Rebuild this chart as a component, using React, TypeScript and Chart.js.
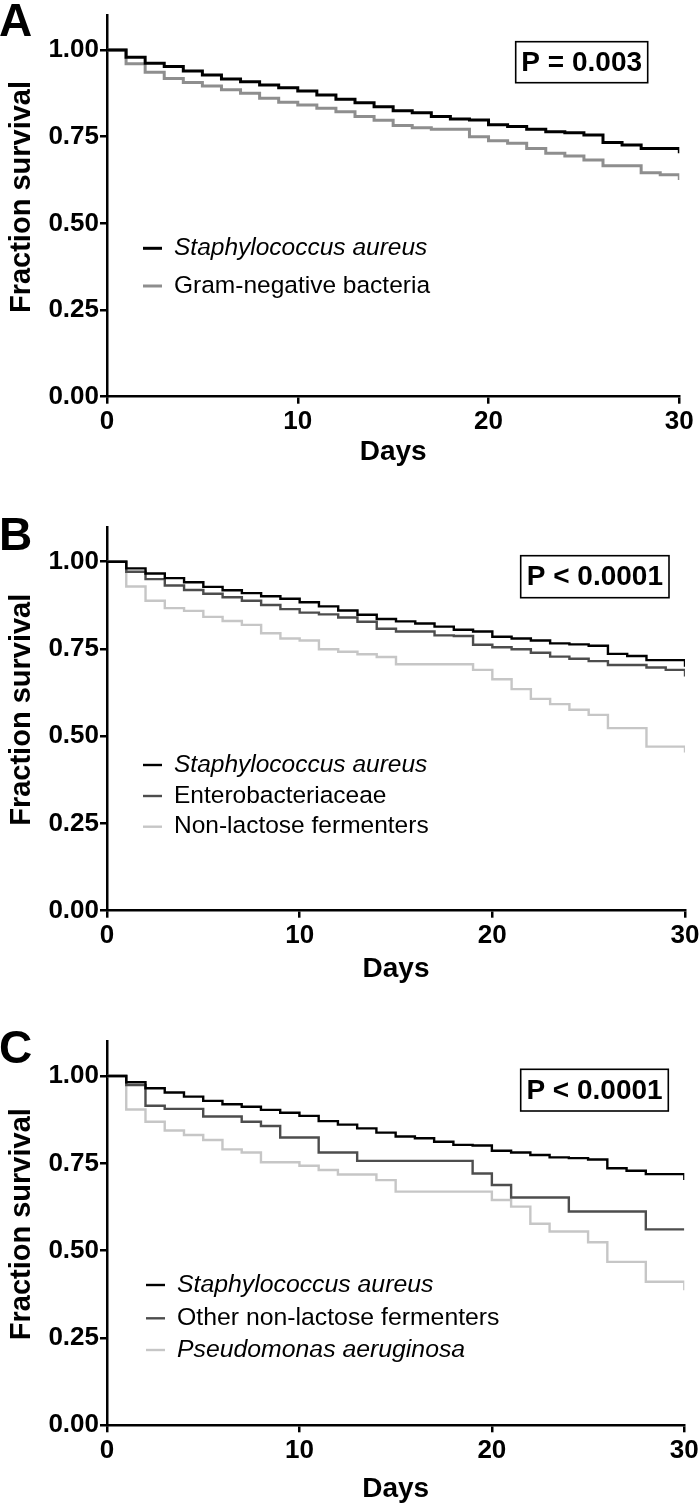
import React, { useEffect, useRef } from 'react';
import { Chart, registerables } from 'chart.js';

Chart.register(...registerables);

// ---------- data ----------
const days = [0, 1, 2, 3, 4, 5, 6, 7, 8, 9, 10, 11, 12, 13, 14, 15, 16, 17, 18, 19, 20, 21, 22, 23, 24, 25, 26, 27, 28, 29, 30];
const xTicks = [0, 10, 20, 30];
const yTicks = [0, 0.25, 0.5, 0.75, 1.0];

// Panel A
const aStaph = [1, 0.979, 0.962, 0.952, 0.939, 0.928, 0.916, 0.908, 0.899, 0.891, 0.882, 0.870, 0.858, 0.848, 0.836, 0.825, 0.819, 0.808, 0.801, 0.798, 0.784, 0.779, 0.771, 0.764, 0.761, 0.755, 0.733, 0.726, 0.716, 0.716, 0.702];
const aGramNeg = [1, 0.960, 0.936, 0.918, 0.906, 0.896, 0.885, 0.875, 0.861, 0.849, 0.841, 0.832, 0.822, 0.808, 0.797, 0.782, 0.776, 0.771, 0.771, 0.750, 0.738, 0.731, 0.716, 0.702, 0.694, 0.683, 0.666, 0.666, 0.646, 0.640, 0.625];
// Panel B
const bStaph = [1, 0.981, 0.966, 0.953, 0.941, 0.928, 0.918, 0.910, 0.901, 0.894, 0.884, 0.872, 0.860, 0.848, 0.836, 0.829, 0.823, 0.814, 0.805, 0.800, 0.785, 0.780, 0.774, 0.766, 0.763, 0.759, 0.736, 0.730, 0.718, 0.718, 0.699];
const bEntero = [1, 0.971, 0.950, 0.932, 0.919, 0.908, 0.898, 0.888, 0.876, 0.864, 0.854, 0.849, 0.840, 0.828, 0.808, 0.800, 0.800, 0.789, 0.787, 0.762, 0.755, 0.749, 0.739, 0.728, 0.722, 0.715, 0.704, 0.704, 0.697, 0.690, 0.671];
const bNLF = [1, 0.929, 0.888, 0.867, 0.859, 0.842, 0.830, 0.819, 0.795, 0.780, 0.774, 0.749, 0.742, 0.735, 0.727, 0.706, 0.706, 0.706, 0.706, 0.690, 0.663, 0.635, 0.607, 0.592, 0.576, 0.561, 0.523, 0.523, 0.470, 0.470, 0.453];
// Panel C
const cStaph = [1, 0.982, 0.965, 0.953, 0.941, 0.929, 0.919, 0.912, 0.903, 0.895, 0.886, 0.871, 0.861, 0.850, 0.838, 0.827, 0.822, 0.812, 0.803, 0.801, 0.786, 0.781, 0.774, 0.767, 0.765, 0.761, 0.736, 0.729, 0.719, 0.719, 0.702];
const cOtherNLF = [1, 0.974, 0.915, 0.906, 0.906, 0.884, 0.884, 0.869, 0.857, 0.824, 0.824, 0.781, 0.781, 0.757, 0.757, 0.757, 0.757, 0.757, 0.757, 0.721, 0.688, 0.652, 0.652, 0.652, 0.612, 0.612, 0.612, 0.612, 0.561, 0.561, 0.561];
const cPseudo = [1, 0.904, 0.869, 0.844, 0.831, 0.817, 0.790, 0.781, 0.753, 0.753, 0.743, 0.731, 0.718, 0.718, 0.702, 0.669, 0.669, 0.669, 0.669, 0.669, 0.645, 0.626, 0.577, 0.555, 0.555, 0.524, 0.468, 0.468, 0.411, 0.411, 0.387];

const labelsA = ['Staphylococcus aureus', 'Gram-negative bacteria'];
const labelsB = ['Staphylococcus aureus', 'Enterobacteriaceae', 'Non-lactose fermenters'];
const labelsC = ['Staphylococcus aureus', 'Other non-lactose fermenters', 'Pseudomonas aeruginosa'];
const italicA = [true, false];
const italicB = [true, false, false];
const italicC = [true, false, true];
const pTexts = ['P = 0.003', 'P < 0.0001', 'P < 0.0001'];
const panelLetters = ['A', 'B', 'C'];
const xTitle = 'Days';
const yTitle = 'Fraction survival';

// ---------- styles ----------
const FONT = '"Liberation Sans", Arial, Helvetica, sans-serif';
const BLACK = '#000000';
const MID = '#8e8e8e';
const DARK = '#4d4d4d';
const LIGHT = '#c6c6c6';

type Series = { label: string; values: number[]; color: string; italic: boolean };
type PanelSpec = {
  letter: string;
  top: number;
  height: number;
  plotTop: number;
  plotBottom: number;
  plotRight: number;
  lineWidth: number;
  series: Series[];
  pText: string;
  pBox: [number, number, number, number];
  legendY: number[];
  legendLine: [number, number];
  legendTextX: number;
  legendFont: number;
  daysY: number;
  letterBaseline: number;
};

const mk = (labels: string[], italics: boolean[], values: number[][], colors: string[]): Series[] =>
  labels.map((l, i) => ({ label: l, values: values[i], color: colors[i], italic: italics[i] }));

const panels: PanelSpec[] = [
  {
    letter: panelLetters[0], top: 0, height: 490, plotTop: 15.3, plotBottom: 396.7, plotRight: 679.3, lineWidth: 3,
    series: mk(labelsA, italicA, [aStaph, aGramNeg], [BLACK, MID]),
    pText: pTexts[0], pBox: [515.7, 41.7, 647.7, 82.7],
    legendY: [248.3, 286], legendLine: [143, 162], legendTextX: 174, legendFont: 24.5,
    daysY: 452, letterBaseline: 36,
  },
  {
    letter: panelLetters[1], top: 490, height: 510, plotTop: 36.8, plotBottom: 420.7, plotRight: 685, lineWidth: 2.4,
    series: mk(labelsB, italicB, [bStaph, bEntero, bNLF], [BLACK, DARK, LIGHT]),
    pText: pTexts[1], pBox: [520.7, 65.7, 669, 107.7],
    legendY: [275, 306, 336.7], legendLine: [143, 162], legendTextX: 174, legendFont: 24.5,
    daysY: 479, letterBaseline: 60,
  },
  {
    letter: panelLetters[2], top: 1000, height: 507, plotTop: 41.1, plotBottom: 425.3, plotRight: 684.3, lineWidth: 2.4,
    series: mk(labelsC, italicC, [cStaph, cOtherNLF, cPseudo], [BLACK, DARK, LIGHT]),
    pText: pTexts[2], pBox: [520.7, 69.3, 668.3, 111],
    legendY: [285, 318.3, 350], legendLine: [146, 165], legendTextX: 177, legendFont: 24.8,
    daysY: 489, letterBaseline: 63,
  },
];

function Panel({ spec }: { spec: PanelSpec }) {
  const ref = useRef<HTMLCanvasElement>(null);
  useEffect(() => {
    const canvas = ref.current;
    if (!canvas) return;
    const overlay = {
      id: 'overlay',
      afterDraw(chart: any) {
        const ctx = chart.ctx as CanvasRenderingContext2D;
        const area = chart.chartArea;
        ctx.save();
        ctx.fillStyle = '#000';
        // panel letter
        ctx.font = `bold 46px ${FONT}`;
        ctx.textAlign = 'left';
        ctx.textBaseline = 'alphabetic';
        ctx.fillText(spec.letter, -1, spec.letterBaseline);
        // y title
        ctx.save();
        ctx.translate(22, (area.top + area.bottom) / 2 - 9);
        ctx.rotate(-Math.PI / 2);
        ctx.font = `bold 29px ${FONT}`;
        ctx.textAlign = 'center';
        ctx.textBaseline = 'middle';
        ctx.fillText(yTitle, 0, 0);
        ctx.restore();
        // x title
        ctx.font = `bold 28px ${FONT}`;
        ctx.textAlign = 'center';
        ctx.textBaseline = 'middle';
        ctx.fillText(xTitle, (area.left + area.right) / 2, spec.daysY);
        // P box
        const [x1, y1, x2, y2] = spec.pBox;
        ctx.strokeStyle = '#000';
        ctx.lineWidth = 1.6;
        ctx.strokeRect(x1, y1, x2 - x1, y2 - y1);
        ctx.font = `bold 28px ${FONT}`;
        ctx.fillText(spec.pText, (x1 + x2) / 2, (y1 + y2) / 2 + 1);
        // legend
        spec.series.forEach((s, i) => {
          const y = spec.legendY[i];
          ctx.strokeStyle = s.color;
          ctx.lineWidth = spec.lineWidth;
          ctx.beginPath();
          ctx.moveTo(spec.legendLine[0], y);
          ctx.lineTo(spec.legendLine[1], y);
          ctx.stroke();
          ctx.fillStyle = '#000';
          ctx.font = `${s.italic ? 'italic ' : ''}${spec.legendFont}px ${FONT}`;
          ctx.textAlign = 'left';
          ctx.textBaseline = 'middle';
          ctx.fillText(s.label, spec.legendTextX, y);
        });
        ctx.restore();
      },
    };

    const axisCommon = {
      grid: { drawOnChartArea: false, drawTicks: true, tickLength: 7, color: '#000', lineWidth: 2.5 },
      border: { display: true, color: '#000', width: 2.5 },
    };

    const chart = new Chart(canvas, {
      type: 'line',
      data: {
        datasets: spec.series.map((s) => ({
          label: s.label,
          data: days.map((d, i) => ({ x: d, y: s.values[i] })),
          borderColor: s.color,
          backgroundColor: s.color,
          borderWidth: spec.lineWidth,
          pointRadius: 0,
          pointHoverRadius: 0,
          stepped: 'before' as const,
          fill: false,
          tension: 0,
          borderJoinStyle: 'miter' as const,
          borderCapStyle: 'butt' as const,
        })),
      },
      options: {
        responsive: false,
        animation: false,
        devicePixelRatio: 1,
        events: [],
        layout: { padding: { left: 0, top: spec.plotTop, right: 700 - spec.plotRight, bottom: 0 } },
        plugins: { legend: { display: false }, tooltip: { enabled: false }, title: { display: false } },
        scales: {
          x: {
            type: 'linear',
            min: 0,
            max: 30,
            afterBuildTicks: (s: any) => { s.ticks = xTicks.map((v) => ({ value: v })); },
            afterFit: (s: any) => { s.height = spec.height - spec.plotBottom; s.paddingLeft = 0; s.paddingRight = 0; },
            ticks: { font: { family: FONT, size: 26, weight: 'bold' }, color: '#000', padding: 3, maxRotation: 0, autoSkip: false },
            ...axisCommon,
          },
          y: {
            type: 'linear',
            min: 0,
            max: 1.1,
            afterBuildTicks: (s: any) => { s.ticks = yTicks.map((v) => ({ value: v })); },
            afterFit: (s: any) => { s.width = 107; s.paddingTop = 0; s.paddingBottom = 0; },
            ticks: {
              font: { family: FONT, size: 26, weight: 'bold' },
              color: '#000',
              padding: 1,
              autoSkip: false,
              callback: (v: any) => Number(v).toFixed(2),
            },
            ...axisCommon,
          },
        },
      } as any,
      plugins: [overlay],
    });
    return () => chart.destroy();
  }, [spec]);
  return (
    <canvas
      ref={ref}
      width={700}
      height={spec.height}
      style={{ position: 'absolute', left: 0, top: spec.top, display: 'block', width: 700, height: spec.height }}
    />
  );
}

export default function App() {
  return (
    <div style={{ position: 'absolute', left: 0, top: 0, width: 700, height: 1507, background: '#fff', overflow: 'hidden' }}>
      {panels.map((p) => (
        <Panel key={p.letter} spec={p} />
      ))}
    </div>
  );
}
